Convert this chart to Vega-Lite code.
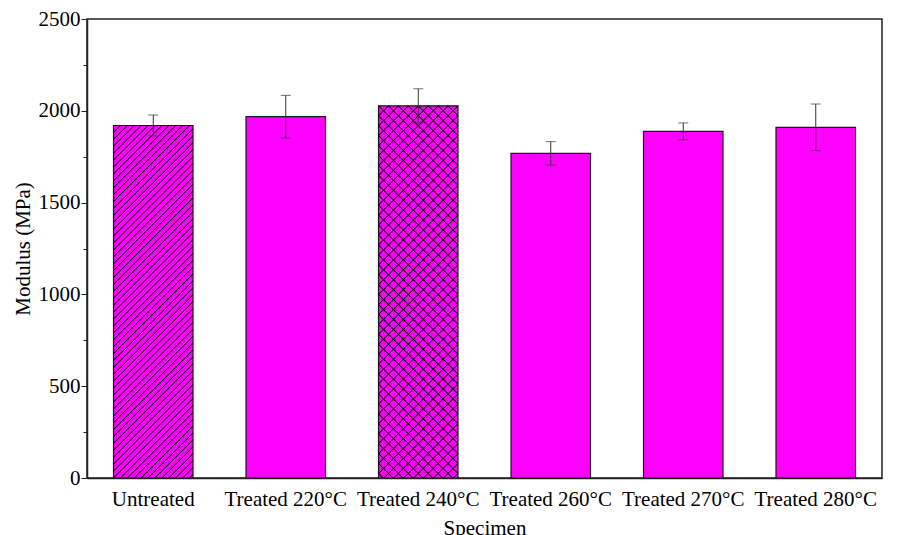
{
  "$schema": "https://vega.github.io/schema/vega-lite/v6.json",
  "width": 795,
  "height": 459,
  "autosize": {"type": "none"},
  "padding": {"left": 87, "top": 19, "right": 22, "bottom": 57},
  "background": "white",
  "data": {
    "values": [
      {"specimen": "Untreated", "modulus": 1920, "err": 57},
      {"specimen": "Treated 220°C", "modulus": 1968, "err": 116},
      {"specimen": "Treated 240°C", "modulus": 2027, "err": 93},
      {"specimen": "Treated 260°C", "modulus": 1768, "err": 64},
      {"specimen": "Treated 270°C", "modulus": 1888, "err": 46},
      {"specimen": "Treated 280°C", "modulus": 1910, "err": 127}
    ]
  },
  "encoding": {
    "x": {
      "field": "specimen",
      "type": "nominal",
      "sort": null,
      "scale": {"paddingInner": 0.4, "paddingOuter": 0.2},
      "axis": {"title": "Specimen", "labelAngle": 0, "tickSize": -5, "labelPadding": 15, "titlePadding": 8, "labelOverlap": false}
    },
    "y": {
      "field": "modulus",
      "type": "quantitative",
      "scale": {"domain": [0, 2500], "nice": false},
      "axis": {
        "title": "Modulus (MPa)",
        "values": [0, 250, 500, 750, 1000, 1250, 1500, 1750, 2000, 2250, 2500],
        "labelExpr": "datum.value % 500 === 0 ? datum.label : ''",
        "format": "d",
        "tickSize": {"condition": {"test": "datum.value % 500 === 0", "value": 6}, "value": 4},
        "labelPadding": 1,
        "titlePadding": 5
      }
    }
  },
  "layer": [
    {"mark": {"type": "bar", "fill": "#FF00FF", "stroke": "#1a1a1a", "strokeWidth": 1.2}},
    {
      "transform": [{"filter": "datum.specimen === 'Untreated'"}],
      "mark": {"type": "bar", "fill": {"gradient": "linear", "x1": 0, "y1": 0, "x2": 0.263, "y2": 1.166, "stops": [
        {"offset":0,"color":"#000"},{"offset":0.003,"color":"rgba(0,0,0,0)"},{"offset":0.013,"color":"rgba(0,0,0,0)"},
        {"offset":0.016,"color":"#000"},{"offset":0.019,"color":"rgba(0,0,0,0)"},{"offset":0.029,"color":"rgba(0,0,0,0)"},
        {"offset":0.032,"color":"#000"},{"offset":0.035,"color":"rgba(0,0,0,0)"},{"offset":0.045,"color":"rgba(0,0,0,0)"},
        {"offset":0.048,"color":"#000"},{"offset":0.051,"color":"rgba(0,0,0,0)"},{"offset":0.061,"color":"rgba(0,0,0,0)"},
        {"offset":0.064,"color":"#000"},{"offset":0.067,"color":"rgba(0,0,0,0)"},{"offset":0.077,"color":"rgba(0,0,0,0)"},
        {"offset":0.08,"color":"#000"},{"offset":0.083,"color":"rgba(0,0,0,0)"},{"offset":0.093,"color":"rgba(0,0,0,0)"},
        {"offset":0.096,"color":"#000"},{"offset":0.099,"color":"rgba(0,0,0,0)"},{"offset":0.109,"color":"rgba(0,0,0,0)"},
        {"offset":0.112,"color":"#000"},{"offset":0.115,"color":"rgba(0,0,0,0)"},{"offset":0.125,"color":"rgba(0,0,0,0)"},
        {"offset":0.128,"color":"#000"},{"offset":0.131,"color":"rgba(0,0,0,0)"},{"offset":0.141,"color":"rgba(0,0,0,0)"},
        {"offset":0.144,"color":"#000"},{"offset":0.147,"color":"rgba(0,0,0,0)"},{"offset":0.157,"color":"rgba(0,0,0,0)"},
        {"offset":0.16,"color":"#000"},{"offset":0.163,"color":"rgba(0,0,0,0)"},{"offset":0.173,"color":"rgba(0,0,0,0)"},
        {"offset":0.176,"color":"#000"},{"offset":0.179,"color":"rgba(0,0,0,0)"},{"offset":0.189,"color":"rgba(0,0,0,0)"},
        {"offset":0.192,"color":"#000"},{"offset":0.195,"color":"rgba(0,0,0,0)"},{"offset":0.205,"color":"rgba(0,0,0,0)"},
        {"offset":0.208,"color":"#000"},{"offset":0.211,"color":"rgba(0,0,0,0)"},{"offset":0.221,"color":"rgba(0,0,0,0)"},
        {"offset":0.224,"color":"#000"},{"offset":0.227,"color":"rgba(0,0,0,0)"},{"offset":0.237,"color":"rgba(0,0,0,0)"},
        {"offset":0.24,"color":"#000"},{"offset":0.243,"color":"rgba(0,0,0,0)"},{"offset":0.253,"color":"rgba(0,0,0,0)"},
        {"offset":0.256,"color":"#000"},{"offset":0.259,"color":"rgba(0,0,0,0)"},{"offset":0.269,"color":"rgba(0,0,0,0)"},
        {"offset":0.272,"color":"#000"},{"offset":0.275,"color":"rgba(0,0,0,0)"},{"offset":0.285,"color":"rgba(0,0,0,0)"},
        {"offset":0.288,"color":"#000"},{"offset":0.291,"color":"rgba(0,0,0,0)"},{"offset":0.301,"color":"rgba(0,0,0,0)"},
        {"offset":0.304,"color":"#000"},{"offset":0.307,"color":"rgba(0,0,0,0)"},{"offset":0.317,"color":"rgba(0,0,0,0)"},
        {"offset":0.32,"color":"#000"},{"offset":0.323,"color":"rgba(0,0,0,0)"},{"offset":0.333,"color":"rgba(0,0,0,0)"},
        {"offset":0.336,"color":"#000"},{"offset":0.339,"color":"rgba(0,0,0,0)"},{"offset":0.349,"color":"rgba(0,0,0,0)"},
        {"offset":0.352,"color":"#000"},{"offset":0.355,"color":"rgba(0,0,0,0)"},{"offset":0.365,"color":"rgba(0,0,0,0)"},
        {"offset":0.368,"color":"#000"},{"offset":0.371,"color":"rgba(0,0,0,0)"},{"offset":0.381,"color":"rgba(0,0,0,0)"},
        {"offset":0.384,"color":"#000"},{"offset":0.387,"color":"rgba(0,0,0,0)"},{"offset":0.397,"color":"rgba(0,0,0,0)"},
        {"offset":0.4,"color":"#000"},{"offset":0.403,"color":"rgba(0,0,0,0)"},{"offset":0.413,"color":"rgba(0,0,0,0)"},
        {"offset":0.416,"color":"#000"},{"offset":0.419,"color":"rgba(0,0,0,0)"},{"offset":0.429,"color":"rgba(0,0,0,0)"},
        {"offset":0.432,"color":"#000"},{"offset":0.435,"color":"rgba(0,0,0,0)"},{"offset":0.445,"color":"rgba(0,0,0,0)"},
        {"offset":0.448,"color":"#000"},{"offset":0.451,"color":"rgba(0,0,0,0)"},{"offset":0.461,"color":"rgba(0,0,0,0)"},
        {"offset":0.464,"color":"#000"},{"offset":0.467,"color":"rgba(0,0,0,0)"},{"offset":0.477,"color":"rgba(0,0,0,0)"},
        {"offset":0.48,"color":"#000"},{"offset":0.483,"color":"rgba(0,0,0,0)"},{"offset":0.493,"color":"rgba(0,0,0,0)"},
        {"offset":0.496,"color":"#000"},{"offset":0.499,"color":"rgba(0,0,0,0)"},{"offset":0.509,"color":"rgba(0,0,0,0)"},
        {"offset":0.512,"color":"#000"},{"offset":0.515,"color":"rgba(0,0,0,0)"},{"offset":0.525,"color":"rgba(0,0,0,0)"},
        {"offset":0.528,"color":"#000"},{"offset":0.531,"color":"rgba(0,0,0,0)"},{"offset":0.541,"color":"rgba(0,0,0,0)"},
        {"offset":0.544,"color":"#000"},{"offset":0.547,"color":"rgba(0,0,0,0)"},{"offset":0.557,"color":"rgba(0,0,0,0)"},
        {"offset":0.56,"color":"#000"},{"offset":0.563,"color":"rgba(0,0,0,0)"},{"offset":0.573,"color":"rgba(0,0,0,0)"},
        {"offset":0.576,"color":"#000"},{"offset":0.579,"color":"rgba(0,0,0,0)"},{"offset":0.589,"color":"rgba(0,0,0,0)"},
        {"offset":0.592,"color":"#000"},{"offset":0.595,"color":"rgba(0,0,0,0)"},{"offset":0.605,"color":"rgba(0,0,0,0)"},
        {"offset":0.608,"color":"#000"},{"offset":0.611,"color":"rgba(0,0,0,0)"},{"offset":0.621,"color":"rgba(0,0,0,0)"},
        {"offset":0.624,"color":"#000"},{"offset":0.627,"color":"rgba(0,0,0,0)"},{"offset":0.637,"color":"rgba(0,0,0,0)"},
        {"offset":0.64,"color":"#000"},{"offset":0.643,"color":"rgba(0,0,0,0)"},{"offset":0.653,"color":"rgba(0,0,0,0)"},
        {"offset":0.656,"color":"#000"},{"offset":0.659,"color":"rgba(0,0,0,0)"},{"offset":0.669,"color":"rgba(0,0,0,0)"},
        {"offset":0.672,"color":"#000"},{"offset":0.675,"color":"rgba(0,0,0,0)"},{"offset":0.685,"color":"rgba(0,0,0,0)"},
        {"offset":0.688,"color":"#000"},{"offset":0.691,"color":"rgba(0,0,0,0)"},{"offset":0.701,"color":"rgba(0,0,0,0)"},
        {"offset":0.704,"color":"#000"},{"offset":0.707,"color":"rgba(0,0,0,0)"},{"offset":0.717,"color":"rgba(0,0,0,0)"},
        {"offset":0.72,"color":"#000"},{"offset":0.723,"color":"rgba(0,0,0,0)"},{"offset":0.733,"color":"rgba(0,0,0,0)"},
        {"offset":0.736,"color":"#000"},{"offset":0.739,"color":"rgba(0,0,0,0)"},{"offset":0.749,"color":"rgba(0,0,0,0)"},
        {"offset":0.752,"color":"#000"},{"offset":0.755,"color":"rgba(0,0,0,0)"},{"offset":0.765,"color":"rgba(0,0,0,0)"},
        {"offset":0.768,"color":"#000"},{"offset":0.771,"color":"rgba(0,0,0,0)"},{"offset":0.781,"color":"rgba(0,0,0,0)"},
        {"offset":0.784,"color":"#000"},{"offset":0.787,"color":"rgba(0,0,0,0)"},{"offset":0.797,"color":"rgba(0,0,0,0)"},
        {"offset":0.8,"color":"#000"},{"offset":0.803,"color":"rgba(0,0,0,0)"},{"offset":0.813,"color":"rgba(0,0,0,0)"},
        {"offset":0.816,"color":"#000"},{"offset":0.819,"color":"rgba(0,0,0,0)"},{"offset":0.829,"color":"rgba(0,0,0,0)"},
        {"offset":0.832,"color":"#000"},{"offset":0.835,"color":"rgba(0,0,0,0)"},{"offset":0.845,"color":"rgba(0,0,0,0)"},
        {"offset":0.848,"color":"#000"},{"offset":0.851,"color":"rgba(0,0,0,0)"},{"offset":0.861,"color":"rgba(0,0,0,0)"},
        {"offset":0.864,"color":"#000"},{"offset":0.867,"color":"rgba(0,0,0,0)"},{"offset":0.877,"color":"rgba(0,0,0,0)"},
        {"offset":0.88,"color":"#000"},{"offset":0.883,"color":"rgba(0,0,0,0)"},{"offset":0.893,"color":"rgba(0,0,0,0)"},
        {"offset":0.896,"color":"#000"},{"offset":0.899,"color":"rgba(0,0,0,0)"},{"offset":0.909,"color":"rgba(0,0,0,0)"},
        {"offset":0.912,"color":"#000"},{"offset":0.915,"color":"rgba(0,0,0,0)"},{"offset":0.925,"color":"rgba(0,0,0,0)"},
        {"offset":0.928,"color":"#000"},{"offset":0.931,"color":"rgba(0,0,0,0)"},{"offset":0.941,"color":"rgba(0,0,0,0)"},
        {"offset":0.944,"color":"#000"},{"offset":0.947,"color":"rgba(0,0,0,0)"},{"offset":0.957,"color":"rgba(0,0,0,0)"},
        {"offset":0.96,"color":"#000"},{"offset":0.963,"color":"rgba(0,0,0,0)"},{"offset":0.973,"color":"rgba(0,0,0,0)"},
        {"offset":0.976,"color":"#000"},{"offset":0.979,"color":"rgba(0,0,0,0)"},{"offset":0.989,"color":"rgba(0,0,0,0)"},
        {"offset":0.992,"color":"#000"},{"offset":0.995,"color":"rgba(0,0,0,0)"},{"offset":1,"color":"rgba(0,0,0,0)"}
      ]}}
    },
    {
      "transform": [{"filter": "datum.specimen === 'Treated 240°C'"}],
      "mark": {"type": "bar", "fill": {"gradient": "linear", "x1": 0, "y1": 0, "x2": 0.248, "y2": 1.1605, "stops": [
        {"offset":0,"color":"#000"},{"offset":0.003,"color":"rgba(0,0,0,0)"},{"offset":0.019,"color":"rgba(0,0,0,0)"},
        {"offset":0.022,"color":"#000"},{"offset":0.025,"color":"rgba(0,0,0,0)"},{"offset":0.041,"color":"rgba(0,0,0,0)"},
        {"offset":0.044,"color":"#000"},{"offset":0.047,"color":"rgba(0,0,0,0)"},{"offset":0.063,"color":"rgba(0,0,0,0)"},
        {"offset":0.066,"color":"#000"},{"offset":0.069,"color":"rgba(0,0,0,0)"},{"offset":0.085,"color":"rgba(0,0,0,0)"},
        {"offset":0.088,"color":"#000"},{"offset":0.091,"color":"rgba(0,0,0,0)"},{"offset":0.107,"color":"rgba(0,0,0,0)"},
        {"offset":0.11,"color":"#000"},{"offset":0.113,"color":"rgba(0,0,0,0)"},{"offset":0.129,"color":"rgba(0,0,0,0)"},
        {"offset":0.132,"color":"#000"},{"offset":0.135,"color":"rgba(0,0,0,0)"},{"offset":0.151,"color":"rgba(0,0,0,0)"},
        {"offset":0.154,"color":"#000"},{"offset":0.157,"color":"rgba(0,0,0,0)"},{"offset":0.173,"color":"rgba(0,0,0,0)"},
        {"offset":0.176,"color":"#000"},{"offset":0.179,"color":"rgba(0,0,0,0)"},{"offset":0.195,"color":"rgba(0,0,0,0)"},
        {"offset":0.198,"color":"#000"},{"offset":0.201,"color":"rgba(0,0,0,0)"},{"offset":0.217,"color":"rgba(0,0,0,0)"},
        {"offset":0.22,"color":"#000"},{"offset":0.223,"color":"rgba(0,0,0,0)"},{"offset":0.239,"color":"rgba(0,0,0,0)"},
        {"offset":0.242,"color":"#000"},{"offset":0.245,"color":"rgba(0,0,0,0)"},{"offset":0.261,"color":"rgba(0,0,0,0)"},
        {"offset":0.264,"color":"#000"},{"offset":0.267,"color":"rgba(0,0,0,0)"},{"offset":0.283,"color":"rgba(0,0,0,0)"},
        {"offset":0.286,"color":"#000"},{"offset":0.289,"color":"rgba(0,0,0,0)"},{"offset":0.305,"color":"rgba(0,0,0,0)"},
        {"offset":0.308,"color":"#000"},{"offset":0.311,"color":"rgba(0,0,0,0)"},{"offset":0.327,"color":"rgba(0,0,0,0)"},
        {"offset":0.33,"color":"#000"},{"offset":0.333,"color":"rgba(0,0,0,0)"},{"offset":0.349,"color":"rgba(0,0,0,0)"},
        {"offset":0.352,"color":"#000"},{"offset":0.355,"color":"rgba(0,0,0,0)"},{"offset":0.371,"color":"rgba(0,0,0,0)"},
        {"offset":0.374,"color":"#000"},{"offset":0.377,"color":"rgba(0,0,0,0)"},{"offset":0.393,"color":"rgba(0,0,0,0)"},
        {"offset":0.396,"color":"#000"},{"offset":0.399,"color":"rgba(0,0,0,0)"},{"offset":0.415,"color":"rgba(0,0,0,0)"},
        {"offset":0.418,"color":"#000"},{"offset":0.421,"color":"rgba(0,0,0,0)"},{"offset":0.437,"color":"rgba(0,0,0,0)"},
        {"offset":0.44,"color":"#000"},{"offset":0.443,"color":"rgba(0,0,0,0)"},{"offset":0.459,"color":"rgba(0,0,0,0)"},
        {"offset":0.462,"color":"#000"},{"offset":0.465,"color":"rgba(0,0,0,0)"},{"offset":0.481,"color":"rgba(0,0,0,0)"},
        {"offset":0.484,"color":"#000"},{"offset":0.487,"color":"rgba(0,0,0,0)"},{"offset":0.503,"color":"rgba(0,0,0,0)"},
        {"offset":0.506,"color":"#000"},{"offset":0.509,"color":"rgba(0,0,0,0)"},{"offset":0.525,"color":"rgba(0,0,0,0)"},
        {"offset":0.528,"color":"#000"},{"offset":0.531,"color":"rgba(0,0,0,0)"},{"offset":0.547,"color":"rgba(0,0,0,0)"},
        {"offset":0.55,"color":"#000"},{"offset":0.553,"color":"rgba(0,0,0,0)"},{"offset":0.569,"color":"rgba(0,0,0,0)"},
        {"offset":0.572,"color":"#000"},{"offset":0.575,"color":"rgba(0,0,0,0)"},{"offset":0.591,"color":"rgba(0,0,0,0)"},
        {"offset":0.594,"color":"#000"},{"offset":0.597,"color":"rgba(0,0,0,0)"},{"offset":0.613,"color":"rgba(0,0,0,0)"},
        {"offset":0.616,"color":"#000"},{"offset":0.619,"color":"rgba(0,0,0,0)"},{"offset":0.635,"color":"rgba(0,0,0,0)"},
        {"offset":0.638,"color":"#000"},{"offset":0.641,"color":"rgba(0,0,0,0)"},{"offset":0.657,"color":"rgba(0,0,0,0)"},
        {"offset":0.66,"color":"#000"},{"offset":0.663,"color":"rgba(0,0,0,0)"},{"offset":0.679,"color":"rgba(0,0,0,0)"},
        {"offset":0.682,"color":"#000"},{"offset":0.685,"color":"rgba(0,0,0,0)"},{"offset":0.701,"color":"rgba(0,0,0,0)"},
        {"offset":0.704,"color":"#000"},{"offset":0.707,"color":"rgba(0,0,0,0)"},{"offset":0.723,"color":"rgba(0,0,0,0)"},
        {"offset":0.726,"color":"#000"},{"offset":0.729,"color":"rgba(0,0,0,0)"},{"offset":0.745,"color":"rgba(0,0,0,0)"},
        {"offset":0.748,"color":"#000"},{"offset":0.751,"color":"rgba(0,0,0,0)"},{"offset":0.767,"color":"rgba(0,0,0,0)"},
        {"offset":0.77,"color":"#000"},{"offset":0.773,"color":"rgba(0,0,0,0)"},{"offset":0.789,"color":"rgba(0,0,0,0)"},
        {"offset":0.792,"color":"#000"},{"offset":0.795,"color":"rgba(0,0,0,0)"},{"offset":0.811,"color":"rgba(0,0,0,0)"},
        {"offset":0.814,"color":"#000"},{"offset":0.817,"color":"rgba(0,0,0,0)"},{"offset":0.833,"color":"rgba(0,0,0,0)"},
        {"offset":0.836,"color":"#000"},{"offset":0.839,"color":"rgba(0,0,0,0)"},{"offset":0.855,"color":"rgba(0,0,0,0)"},
        {"offset":0.858,"color":"#000"},{"offset":0.861,"color":"rgba(0,0,0,0)"},{"offset":0.877,"color":"rgba(0,0,0,0)"},
        {"offset":0.88,"color":"#000"},{"offset":0.883,"color":"rgba(0,0,0,0)"},{"offset":0.899,"color":"rgba(0,0,0,0)"},
        {"offset":0.902,"color":"#000"},{"offset":0.905,"color":"rgba(0,0,0,0)"},{"offset":0.921,"color":"rgba(0,0,0,0)"},
        {"offset":0.924,"color":"#000"},{"offset":0.927,"color":"rgba(0,0,0,0)"},{"offset":0.943,"color":"rgba(0,0,0,0)"},
        {"offset":0.946,"color":"#000"},{"offset":0.949,"color":"rgba(0,0,0,0)"},{"offset":0.965,"color":"rgba(0,0,0,0)"},
        {"offset":0.968,"color":"#000"},{"offset":0.971,"color":"rgba(0,0,0,0)"},{"offset":0.987,"color":"rgba(0,0,0,0)"},
        {"offset":0.99,"color":"#000"},{"offset":0.993,"color":"rgba(0,0,0,0)"},{"offset":1,"color":"rgba(0,0,0,0)"}
      ]}}
    },
    {
      "transform": [{"filter": "datum.specimen === 'Treated 240°C'"}],
      "mark": {"type": "bar", "fill": {"gradient": "linear", "x1": 1, "y1": 0, "x2": 0.752, "y2": 1.1605, "stops": [
        {"offset":0,"color":"#000"},{"offset":0.003,"color":"rgba(0,0,0,0)"},{"offset":0.019,"color":"rgba(0,0,0,0)"},
        {"offset":0.022,"color":"#000"},{"offset":0.025,"color":"rgba(0,0,0,0)"},{"offset":0.041,"color":"rgba(0,0,0,0)"},
        {"offset":0.044,"color":"#000"},{"offset":0.047,"color":"rgba(0,0,0,0)"},{"offset":0.063,"color":"rgba(0,0,0,0)"},
        {"offset":0.066,"color":"#000"},{"offset":0.069,"color":"rgba(0,0,0,0)"},{"offset":0.085,"color":"rgba(0,0,0,0)"},
        {"offset":0.088,"color":"#000"},{"offset":0.091,"color":"rgba(0,0,0,0)"},{"offset":0.107,"color":"rgba(0,0,0,0)"},
        {"offset":0.11,"color":"#000"},{"offset":0.113,"color":"rgba(0,0,0,0)"},{"offset":0.129,"color":"rgba(0,0,0,0)"},
        {"offset":0.132,"color":"#000"},{"offset":0.135,"color":"rgba(0,0,0,0)"},{"offset":0.151,"color":"rgba(0,0,0,0)"},
        {"offset":0.154,"color":"#000"},{"offset":0.157,"color":"rgba(0,0,0,0)"},{"offset":0.173,"color":"rgba(0,0,0,0)"},
        {"offset":0.176,"color":"#000"},{"offset":0.179,"color":"rgba(0,0,0,0)"},{"offset":0.195,"color":"rgba(0,0,0,0)"},
        {"offset":0.198,"color":"#000"},{"offset":0.201,"color":"rgba(0,0,0,0)"},{"offset":0.217,"color":"rgba(0,0,0,0)"},
        {"offset":0.22,"color":"#000"},{"offset":0.223,"color":"rgba(0,0,0,0)"},{"offset":0.239,"color":"rgba(0,0,0,0)"},
        {"offset":0.242,"color":"#000"},{"offset":0.245,"color":"rgba(0,0,0,0)"},{"offset":0.261,"color":"rgba(0,0,0,0)"},
        {"offset":0.264,"color":"#000"},{"offset":0.267,"color":"rgba(0,0,0,0)"},{"offset":0.283,"color":"rgba(0,0,0,0)"},
        {"offset":0.286,"color":"#000"},{"offset":0.289,"color":"rgba(0,0,0,0)"},{"offset":0.305,"color":"rgba(0,0,0,0)"},
        {"offset":0.308,"color":"#000"},{"offset":0.311,"color":"rgba(0,0,0,0)"},{"offset":0.327,"color":"rgba(0,0,0,0)"},
        {"offset":0.33,"color":"#000"},{"offset":0.333,"color":"rgba(0,0,0,0)"},{"offset":0.349,"color":"rgba(0,0,0,0)"},
        {"offset":0.352,"color":"#000"},{"offset":0.355,"color":"rgba(0,0,0,0)"},{"offset":0.371,"color":"rgba(0,0,0,0)"},
        {"offset":0.374,"color":"#000"},{"offset":0.377,"color":"rgba(0,0,0,0)"},{"offset":0.393,"color":"rgba(0,0,0,0)"},
        {"offset":0.396,"color":"#000"},{"offset":0.399,"color":"rgba(0,0,0,0)"},{"offset":0.415,"color":"rgba(0,0,0,0)"},
        {"offset":0.418,"color":"#000"},{"offset":0.421,"color":"rgba(0,0,0,0)"},{"offset":0.437,"color":"rgba(0,0,0,0)"},
        {"offset":0.44,"color":"#000"},{"offset":0.443,"color":"rgba(0,0,0,0)"},{"offset":0.459,"color":"rgba(0,0,0,0)"},
        {"offset":0.462,"color":"#000"},{"offset":0.465,"color":"rgba(0,0,0,0)"},{"offset":0.481,"color":"rgba(0,0,0,0)"},
        {"offset":0.484,"color":"#000"},{"offset":0.487,"color":"rgba(0,0,0,0)"},{"offset":0.503,"color":"rgba(0,0,0,0)"},
        {"offset":0.506,"color":"#000"},{"offset":0.509,"color":"rgba(0,0,0,0)"},{"offset":0.525,"color":"rgba(0,0,0,0)"},
        {"offset":0.528,"color":"#000"},{"offset":0.531,"color":"rgba(0,0,0,0)"},{"offset":0.547,"color":"rgba(0,0,0,0)"},
        {"offset":0.55,"color":"#000"},{"offset":0.553,"color":"rgba(0,0,0,0)"},{"offset":0.569,"color":"rgba(0,0,0,0)"},
        {"offset":0.572,"color":"#000"},{"offset":0.575,"color":"rgba(0,0,0,0)"},{"offset":0.591,"color":"rgba(0,0,0,0)"},
        {"offset":0.594,"color":"#000"},{"offset":0.597,"color":"rgba(0,0,0,0)"},{"offset":0.613,"color":"rgba(0,0,0,0)"},
        {"offset":0.616,"color":"#000"},{"offset":0.619,"color":"rgba(0,0,0,0)"},{"offset":0.635,"color":"rgba(0,0,0,0)"},
        {"offset":0.638,"color":"#000"},{"offset":0.641,"color":"rgba(0,0,0,0)"},{"offset":0.657,"color":"rgba(0,0,0,0)"},
        {"offset":0.66,"color":"#000"},{"offset":0.663,"color":"rgba(0,0,0,0)"},{"offset":0.679,"color":"rgba(0,0,0,0)"},
        {"offset":0.682,"color":"#000"},{"offset":0.685,"color":"rgba(0,0,0,0)"},{"offset":0.701,"color":"rgba(0,0,0,0)"},
        {"offset":0.704,"color":"#000"},{"offset":0.707,"color":"rgba(0,0,0,0)"},{"offset":0.723,"color":"rgba(0,0,0,0)"},
        {"offset":0.726,"color":"#000"},{"offset":0.729,"color":"rgba(0,0,0,0)"},{"offset":0.745,"color":"rgba(0,0,0,0)"},
        {"offset":0.748,"color":"#000"},{"offset":0.751,"color":"rgba(0,0,0,0)"},{"offset":0.767,"color":"rgba(0,0,0,0)"},
        {"offset":0.77,"color":"#000"},{"offset":0.773,"color":"rgba(0,0,0,0)"},{"offset":0.789,"color":"rgba(0,0,0,0)"},
        {"offset":0.792,"color":"#000"},{"offset":0.795,"color":"rgba(0,0,0,0)"},{"offset":0.811,"color":"rgba(0,0,0,0)"},
        {"offset":0.814,"color":"#000"},{"offset":0.817,"color":"rgba(0,0,0,0)"},{"offset":0.833,"color":"rgba(0,0,0,0)"},
        {"offset":0.836,"color":"#000"},{"offset":0.839,"color":"rgba(0,0,0,0)"},{"offset":0.855,"color":"rgba(0,0,0,0)"},
        {"offset":0.858,"color":"#000"},{"offset":0.861,"color":"rgba(0,0,0,0)"},{"offset":0.877,"color":"rgba(0,0,0,0)"},
        {"offset":0.88,"color":"#000"},{"offset":0.883,"color":"rgba(0,0,0,0)"},{"offset":0.899,"color":"rgba(0,0,0,0)"},
        {"offset":0.902,"color":"#000"},{"offset":0.905,"color":"rgba(0,0,0,0)"},{"offset":0.921,"color":"rgba(0,0,0,0)"},
        {"offset":0.924,"color":"#000"},{"offset":0.927,"color":"rgba(0,0,0,0)"},{"offset":0.943,"color":"rgba(0,0,0,0)"},
        {"offset":0.946,"color":"#000"},{"offset":0.949,"color":"rgba(0,0,0,0)"},{"offset":0.965,"color":"rgba(0,0,0,0)"},
        {"offset":0.968,"color":"#000"},{"offset":0.971,"color":"rgba(0,0,0,0)"},{"offset":0.987,"color":"rgba(0,0,0,0)"},
        {"offset":0.99,"color":"#000"},{"offset":0.993,"color":"rgba(0,0,0,0)"},{"offset":1,"color":"rgba(0,0,0,0)"}
      ]}}
    },
    {
      "mark": {"type": "errorbar", "color": "#333333", "thickness": 1, "ticks": {"size": 10, "thickness": 1, "color": "#333333"}},
      "encoding": {"yError": {"field": "err"}}
    }
  ],
  "config": {
    "view": {"stroke": "#222222", "strokeWidth": 1.5},
    "axis": {
      "domainColor": "#222222",
      "domainWidth": 1.5,
      "tickColor": "#222222",
      "tickWidth": 1,
      "grid": false,
      "labelFont": "Liberation Serif",
      "titleFont": "Liberation Serif",
      "labelFontSize": 21,
      "titleFontSize": 21,
      "labelColor": "#000000",
      "titleColor": "#000000",
      "titleFontWeight": "normal"
    }
  }
}
